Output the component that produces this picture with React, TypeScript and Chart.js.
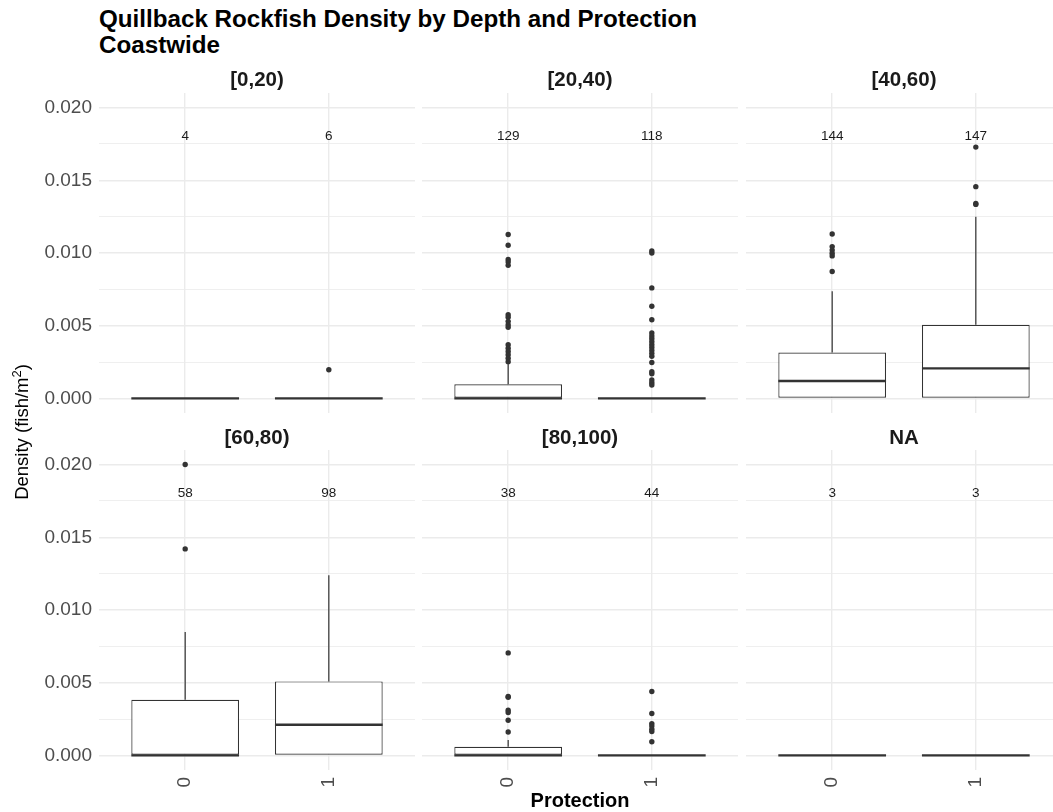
import React, { useEffect, useRef } from 'react';
import { Chart, registerables } from 'chart.js';

Chart.register(...registerables);

// ---------------- data ----------------
const depthBins: string[] = ['[0,20)', '[20,40)', '[40,60)', '[60,80)', '[80,100)', 'NA'];
const protectionLevels: string[] = ['0', '1'];
const sampleCounts: number[][] = [[4, 6], [129, 118], [144, 147], [58, 98], [38, 44], [3, 3]];

const lowerWhiskers: number[][] = [[0, 0], [0, 0], [0, 0], [0, 0], [0, 0], [0, 0]];
const q1Values: number[][] = [[0, 0], [0, 0], [0, 0], [0, 0], [0, 0], [0, 0]];
const medianValues: number[][] = [[0, 0], [0, 0], [0.0012, 0.00207], [0, 0.00211], [0, 0], [0, 0]];
const q3Values: number[][] = [[0, 0], [0.00097, 0], [0.00316, 0.00507], [0.00383, 0.00509], [0.0006, 0], [0, 0]];
const upperWhiskers: number[][] = [[0, 0], [0.00242, 0], [0.00737, 0.01249], [0.00849, 0.01239], [0.00106, 0], [0, 0]];

const outlierValues: number[][][] = [
  [[], [0.00197]],
  [
    [0.01127, 0.01053, 0.00956, 0.00938, 0.00915, 0.00576, 0.00558, 0.0053, 0.00507, 0.0049,
      0.00369, 0.00346, 0.00323, 0.003, 0.00276, 0.00253],
    [0.01014, 0.01, 0.0076, 0.00634, 0.00541, 0.0045, 0.0043, 0.0041, 0.0039, 0.0037, 0.0035,
      0.0033, 0.0031, 0.0029, 0.00247, 0.00184, 0.0017, 0.00127, 0.00108, 0.00092],
  ],
  [[0.01131, 0.01044, 0.0102, 0.00998, 0.0098, 0.00873], [0.01728, 0.01456, 0.01341, 0.01334]],
  [[0.0200, 0.0142], []],
  [
    [0.00705, 0.00406, 0.004, 0.00311, 0.00295, 0.00242, 0.00161],
    [0.0044, 0.00288, 0.00219, 0.00203, 0.0018, 0.00164, 0.00094],
  ],
  [[], []],
];

const yMajorTicks: number[] = [0, 0.005, 0.01, 0.015, 0.02];
const yMinorTicks: number[] = [0.0025, 0.0075, 0.0125, 0.0175];
const countLabelY = 0.018;

// ---------------- layout / style ----------------
const FONT = '"Liberation Sans", Arial, Helvetica, sans-serif';
const PANEL_LEFTS = [99, 422, 746];
const PANEL_TOPS = [93, 450];
const PANEL_W = 316;
const PANEL_H = 320;
const PAD_TOP = 30;
const PAD_SIDE = 12;
const PAD_BOTTOM = 24;
const X_AXIS_H = 36;
const BOX_WIDTH = 0.75;
const INK = '#333333';
const GRID = '#EBEBEB';

const allValues = [
  ...upperWhiskers.flat(),
  ...q3Values.flat(),
  ...outlierValues.flat(2),
  ...lowerWhiskers.flat(),
];
const dataMax = Math.max(...allValues);
const dataMin = Math.min(...allValues);
const yExpand = (dataMax - dataMin) * 0.05;

const countLabelPlugin = {
  id: 'countLabels',
  afterDatasetsDraw(chart: any, _args: any, opts: any) {
    const { ctx, scales } = chart;
    const x = scales.x;
    const y = scales.y;
    ctx.save();
    ctx.font = `13.5px ${FONT}`;
    ctx.fillStyle = '#1A1A1A';
    ctx.textAlign = 'center';
    ctx.textBaseline = 'middle';
    (opts.counts || []).forEach((n: number, j: number) => {
      ctx.fillText(String(n), x.getPixelForValue(j), y.getPixelForValue(countLabelY));
    });
    ctx.restore();
  },
};

function buildDatasets(i: number): any[] {
  const ds: any[] = [];
  ds.push({
    type: 'bar',
    data: protectionLevels.map((_, j) => ({ x: j, y: [q1Values[i][j], q3Values[i][j]] })),
    backgroundColor: '#FFFFFF',
    borderColor: INK,
    borderWidth: 1.2,
    borderSkipped: false,
    barPercentage: BOX_WIDTH,
    categoryPercentage: 1,
    order: 4,
  });
  protectionLevels.forEach((_, j) => {
    ds.push({
      type: 'line',
      data: [{ x: j, y: q3Values[i][j] }, { x: j, y: upperWhiskers[i][j] }],
      borderColor: INK,
      borderWidth: 1.2,
      pointRadius: 0,
      order: 3,
    });
    ds.push({
      type: 'line',
      data: [{ x: j, y: lowerWhiskers[i][j] }, { x: j, y: q1Values[i][j] }],
      borderColor: INK,
      borderWidth: 1.2,
      pointRadius: 0,
      order: 3,
    });
    ds.push({
      type: 'line',
      data: [
        { x: j - BOX_WIDTH / 2, y: medianValues[i][j] },
        { x: j + BOX_WIDTH / 2, y: medianValues[i][j] },
      ],
      borderColor: INK,
      borderWidth: 2.3,
      pointRadius: 0,
      order: 2,
    });
  });
  ds.push({
    type: 'scatter',
    data: protectionLevels.flatMap((_, j) => outlierValues[i][j].map((v) => ({ x: j, y: v }))),
    pointRadius: 2.7,
    pointBackgroundColor: INK,
    pointBorderWidth: 0,
    showLine: false,
    order: 1,
  });
  return ds;
}

function Panel({ index }: { index: number }) {
  const ref = useRef<HTMLCanvasElement>(null);
  const row = Math.floor(index / 3);
  const col = index % 3;
  const showY = col === 0;
  const showX = row === 1;
  const left = showY ? 0 : PANEL_LEFTS[col] - PAD_SIDE;
  const top = PANEL_TOPS[row] - PAD_TOP;
  const padLeft = showY ? 0 : PAD_SIDE;
  const yAxisW = showY ? PANEL_LEFTS[0] : 0;
  const width = PANEL_LEFTS[col] + PANEL_W + PAD_SIDE - left;
  const height = PAD_TOP + PANEL_H + (showX ? X_AXIS_H : PAD_BOTTOM);

  useEffect(() => {
    if (!ref.current) return;
    const chart = new Chart(ref.current, {
      type: 'bar',
      data: { datasets: buildDatasets(index) },
      options: {
        responsive: false,
        animation: false,
        devicePixelRatio: 1,
        layout: {
          padding: { top: PAD_TOP, left: padLeft, right: PAD_SIDE, bottom: showX ? 0 : PAD_BOTTOM },
        },
        plugins: {
          legend: { display: false },
          tooltip: { enabled: false },
          title: { display: false },
          countLabels: { counts: sampleCounts[index] },
        } as any,
        scales: {
          x: {
            type: 'linear',
            min: -0.6,
            max: protectionLevels.length - 1 + 0.6,
            bounds: 'data',
            offset: false,
            afterBuildTicks: (s: any) => {
              s.ticks = protectionLevels.map((_, j) => ({ value: j }));
            },
            afterFit: (s: any) => {
              s.height = showX ? X_AXIS_H : 0;
            },
            ticks: {
              display: showX,
              autoSkip: false,
              minRotation: 90,
              maxRotation: 90,
              padding: 7,
              color: '#4D4D4D',
              font: { family: FONT, size: 19 },
              callback: (_v: any, idx: number) => protectionLevels[idx] ?? '',
            },
            grid: { color: GRID, lineWidth: 1.4, drawTicks: false, offset: false },
            border: { display: false },
          },
          y: {
            type: 'linear',
            min: dataMin - yExpand,
            max: dataMax + yExpand,
            bounds: 'data',
            afterBuildTicks: (s: any) => {
              s.ticks = [...yMajorTicks, ...yMinorTicks].sort((a, b) => a - b).map((v) => ({ value: v }));
            },
            afterFit: (s: any) => {
              s.width = yAxisW;
            },
            ticks: {
              display: showY,
              autoSkip: false,
              padding: 7,
              color: '#4D4D4D',
              font: { family: FONT, size: 19 },
              callback: (v: any) => (yMajorTicks.includes(v) ? Number(v).toFixed(3) : ''),
            },
            grid: {
              color: GRID,
              drawTicks: false,
              lineWidth: (ctx: any) => (ctx.tick && yMajorTicks.includes(ctx.tick.value) ? 1.4 : 0.8),
            },
            border: { display: false },
          },
        },
      } as any,
      plugins: [countLabelPlugin as any],
    });
    return () => chart.destroy();
  }, [index]);

  return (
    <canvas
      ref={ref}
      width={width}
      height={height}
      style={{ position: 'absolute', left, top, width, height }}
    />
  );
}

const stripStyle = (cx: number, cy: number): React.CSSProperties => ({
  position: 'absolute',
  left: cx - 100,
  top: cy - 13,
  width: 200,
  height: 26,
  lineHeight: '26px',
  textAlign: 'center',
  fontWeight: 'bold',
  fontSize: 20.5,
  color: '#1A1A1A',
});

export default function App() {
  return (
    <div
      style={{
        position: 'fixed',
        left: 0,
        top: 0,
        width: 1053,
        height: 812,
        overflow: 'hidden',
        background: '#FFFFFF',
        fontFamily: FONT,
      }}
    >
      <div
        style={{
          position: 'absolute',
          left: 99,
          top: 6,
          fontWeight: 'bold',
          fontSize: 24.2,
          lineHeight: '26px',
          color: '#000',
          whiteSpace: 'nowrap',
        }}
      >
        <div>Quillback Rockfish Density by Depth and Protection</div>
        <div>Coastwide</div>
      </div>

      {depthBins.map((_, i) => (
        <Panel key={i} index={i} />
      ))}

      {depthBins.map((label, i) => {
        const row = Math.floor(i / 3);
        const col = i % 3;
        return (
          <div key={'s' + i} style={stripStyle(PANEL_LEFTS[col] + PANEL_W / 2, row === 0 ? 79 : 437)}>
            {label}
          </div>
        );
      })}

      <div
        style={{
          position: 'absolute',
          left: 22 - 150,
          top: 432 - 12,
          width: 300,
          height: 24,
          lineHeight: '24px',
          textAlign: 'center',
          fontSize: 18.5,
          color: '#000',
          transform: 'rotate(-90deg)',
          whiteSpace: 'nowrap',
        }}
      >
        Density (fish/m
        <span style={{ fontSize: '70%', position: 'relative', top: '-0.55em' }}>2</span>)
      </div>

      <div
        style={{
          position: 'absolute',
          left: 580 - 100,
          top: 800 - 12,
          width: 200,
          height: 24,
          lineHeight: '24px',
          textAlign: 'center',
          fontWeight: 'bold',
          fontSize: 20,
          color: '#000',
        }}
      >
        Protection
      </div>
    </div>
  );
}
